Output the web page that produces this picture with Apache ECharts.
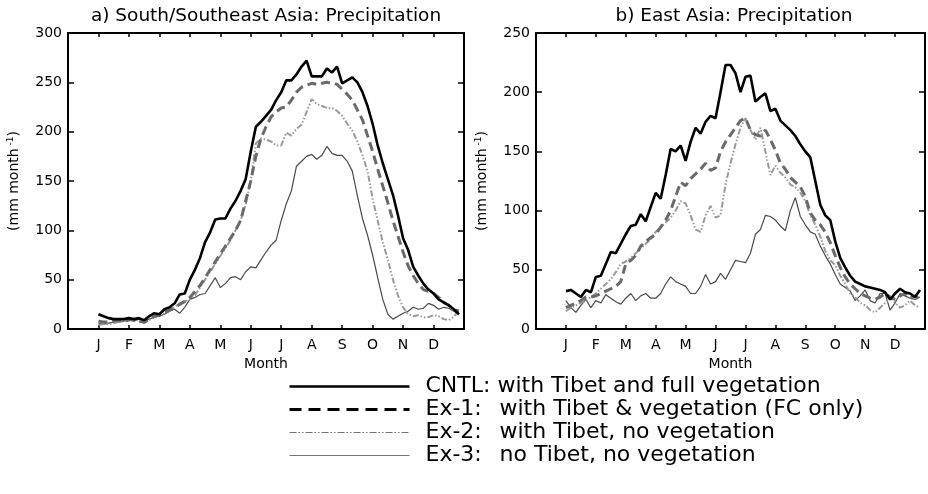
<!DOCTYPE html>
<html><head><meta charset="utf-8">
<script src="https://cdn.jsdelivr.net/npm/echarts@6/dist/echarts.min.js"></script>
<style>html,body{margin:0;padding:0;background:#fff}#c{width:928px;height:494px}</style>
</head><body><div id="c"></div><script>
// ---- data (pentad means, 72 pentads = 12 months x 6) ----
const months = ['J','F','M','A','M','J','J','A','S','O','N','D'];
const seriesNames = ['CNTL','Ex-1','Ex-2','Ex-3'];
const legendPrefix = ['CNTL:','Ex-1:','Ex-2:','Ex-3:'];
const legendText = ['with Tibet and full vegetation','with Tibet & vegetation (FC only)','with Tibet, no vegetation','no Tibet, no vegetation'];
const panelTitles = ['a) South/Southeast Asia: Precipitation','b) East Asia: Precipitation'];
const yMax = [300, 250];

const sseCNTL = [15,13,11,10,10,10,11,10,11,9,13,16,
  15,20,22,26,35,36,50,60,72,88,98,111,
  112,112,122,130,140,152,180,205,210,216,222,232,
  240,252,252,258,266,272,256,256,256,264,260,266,
  249,252,255,250,240,226,208,186,168,152,136,115,
  92,80,63,54,46,40,36,30,27,24,20,15];
const sseEx1 = [8,7,7,8,9,8,9,10,8,7,10,13,
  14,17,19,22,25,28,32,38,44,52,60,68,
  76,84,92,100,110,130,150,175,193,205,215,220,
  224,225,232,240,245,247,249,248,249,250,249,248,
  243,238,232,222,212,196,180,162,145,128,110,94,
  78,64,54,46,40,38,36,32,27,24,20,18];
const sseEx2 = [4,5,5,6,7,8,9,10,8,6,9,12,
  14,16,19,22,26,28,30,34,42,50,58,66,
  74,82,90,100,110,126,150,188,193,192,190,186,
  186,199,196,203,207,220,233,228,226,224,224,221,
  216,208,201,190,176,160,132,110,88,70,50,34,
  22,15,13,14,12,12,14,13,10,9,12,20];
const sseEx3 = [6,5,6,7,7,8,9,8,10,9,10,12,
  13,15,18,20,16,22,30,32,35,36,44,52,
  42,46,52,53,50,58,63,62,70,78,85,90,
  110,127,140,165,170,175,177,172,176,185,178,176,
  176,170,160,135,112,95,75,52,30,15,10,13,
  16,18,22,20,21,26,24,20,22,21,18,15];

const eaCNTL = [32,33,30,27,33,31,44,45,55,65,64,72,
  80,87,88,97,91,103,115,110,130,152,150,155,
  142,158,170,165,175,180,178,200,223,223,216,200,
  213,214,192,196,199,184,186,176,172,168,163,156,
  150,145,125,105,96,92,74,60,52,45,40,38,
  36,35,34,33,31,25,30,34,31,30,27,33];
const eaEx1 = [18,20,22,24,27,27,28,30,32,34,36,40,
  55,58,62,70,74,77,80,86,92,100,112,124,
  121,127,131,135,140,134,136,150,158,164,170,176,
  178,168,164,163,168,160,151,140,135,128,124,120,
  112,98,92,88,82,73,62,52,44,38,34,30,
  28,26,25,27,30,27,25,28,30,26,28,25];
const eaEx2 = [15,18,20,22,24,27,30,34,38,42,48,55,
  57,60,64,68,72,76,82,86,90,94,100,108,
  106,96,84,82,96,104,94,96,122,140,156,170,
  178,168,160,170,150,130,138,132,128,122,120,115,
  108,96,88,78,66,58,54,45,38,30,27,22,
  20,16,14,18,22,27,22,18,20,24,20,18];
const eaEx3 = [24,18,14,20,25,18,24,22,29,26,23,21,
  26,30,24,28,30,26,26,30,38,44,40,38,
  36,30,30,36,46,38,40,47,42,50,58,57,
  56,64,80,84,96,95,92,87,83,100,111,95,
  88,82,80,70,62,55,46,38,35,32,24,28,
  33,24,22,30,30,16,22,30,28,26,25,27];

const panels = [[sseCNTL,sseEx1,sseEx2,sseEx3],[eaCNTL,eaEx1,eaEx2,eaEx3]];

// ---- styles ----
const FONT = 'DejaVu Sans';
const LSIZE = 22;
const lineStyles = [
  {color:'#000000', width:2.6, type:'solid'},
  {color:'#6a6a6a', width:3, type:[9,5]},
  {color:'#9a9a9a', width:2, type:[6,2,1.5,2,1.5,2]},
  {color:'#4a4a4a', width:1.2, type:'solid'}
];
const legendLineStyles = [
  {color:'#000000', width:2.6, type:'solid'},
  {color:'#000000', width:3, type:[12,7]},
  {color:'#777777', width:1, type:[7,2,1.5,2,1.5,2]},
  {color:'#777777', width:1, type:'solid'}
];

const gridBoxes = [
  {left:68, top:33, width:396, height:296},
  {left:536, top:33, width:396, height:296}
];

const xAxes = [], yAxes = [], series = [];
gridBoxes.forEach((g, gi) => {
  const lineCommon = {show:true, onZero:false, lineStyle:{color:'#000', width:2}};
  const xBase = {type:'value', gridIndex:gi, min:-6, max:72, interval:6,
    axisLine:lineCommon, splitLine:{show:false},
    axisTick:{show:true, inside:true, length:4, lineStyle:{color:'#000', width:1.5}}};
  xAxes.push(Object.assign({}, xBase, {position:'bottom',
    name:'Month', nameLocation:'middle', nameGap:25,
    nameTextStyle:{fontFamily:FONT, fontSize:14, color:'#000'},
    axisLabel:{show:true, margin:9, fontFamily:FONT, fontSize:14, color:'#000',
      formatter: v => { const i = v / 6; return (Number.isInteger(i) && i >= 0 && i < 12) ? months[i] : ''; }}}));
  xAxes.push(Object.assign({}, xBase, {position:'top', axisLabel:{show:false}}));
  const yBase = {type:'value', gridIndex:gi, min:0, max:yMax[gi], interval:50,
    axisLine:lineCommon, splitLine:{show:false},
    axisTick:{show:true, inside:true, length:6, lineStyle:{color:'#000', width:1.5}}};
  yAxes.push(Object.assign({}, yBase, {position:'left',
    name:'{a|(mm month}{s| -1}{a|)}', nameLocation:'middle', nameGap:45,
    nameTextStyle:{rich:{a:{fontFamily:FONT, fontSize:14, color:'#000', lineHeight:17},
                          s:{fontFamily:FONT, fontSize:9, color:'#000', verticalAlign:'top', lineHeight:17}}},
    axisLabel:{show:true, margin:6, fontFamily:FONT, fontSize:14, color:'#000'}}));
  yAxes.push(Object.assign({}, yBase, {position:'right', axisLabel:{show:false}}));
  const order = [3,2,1,0];
  order.forEach(si => {
    series.push({
      name: seriesNames[si], type:'line', xAxisIndex: gi*2, yAxisIndex: gi*2,
      data: panels[gi][si].map((v, i) => [i, v]),
      symbol:'none', showSymbol:false, smooth:false, silent:true,
      lineStyle: lineStyles[si], itemStyle:{color: lineStyles[si].color},
      z: 10 - si
    });
  });
});

const option = {
  backgroundColor:'#ffffff',
  animation:false,
  title: panelTitles.map((t, i) => ({
    text:t, left: gridBoxes[i].left + gridBoxes[i].width/2, top:7, padding:0,
    textAlign:'center',
    textStyle:{fontFamily:FONT, fontSize:18.5, fontWeight:'normal', color:'#000'}
  })),
  grid: gridBoxes,
  xAxis: xAxes,
  yAxis: yAxes,
  legend: {
    orient:'vertical', left:288, top:375, padding:0,
    itemWidth:120, itemHeight:14, itemGap:0, selectedMode:false,
    data: seriesNames.map((n, i) => ({name:n, lineStyle: legendLineStyles[i], itemStyle:{color: legendLineStyles[i].color, opacity:0}})),
    formatter: name => {
      const i = seriesNames.indexOf(name);
      if (i === 0) return '{g|}{t|' + legendPrefix[i] + ' ' + legendText[i] + '}';
      return '{g|}{p|' + legendPrefix[i] + '}{t|' + legendText[i] + '}';
    },
    textStyle:{fontFamily:FONT, fontSize:LSIZE, color:'#000', lineHeight:23,
      rich:{g:{width:11}, p:{width:74, fontFamily:FONT, fontSize:LSIZE, color:'#000', lineHeight:23},
            t:{fontFamily:FONT, fontSize:LSIZE, color:'#000', lineHeight:23}}}
  },
  series: series
};
const chart = echarts.init(document.getElementById('c'), null, {renderer:'canvas'});
chart.setOption(option);
</script></body></html>
